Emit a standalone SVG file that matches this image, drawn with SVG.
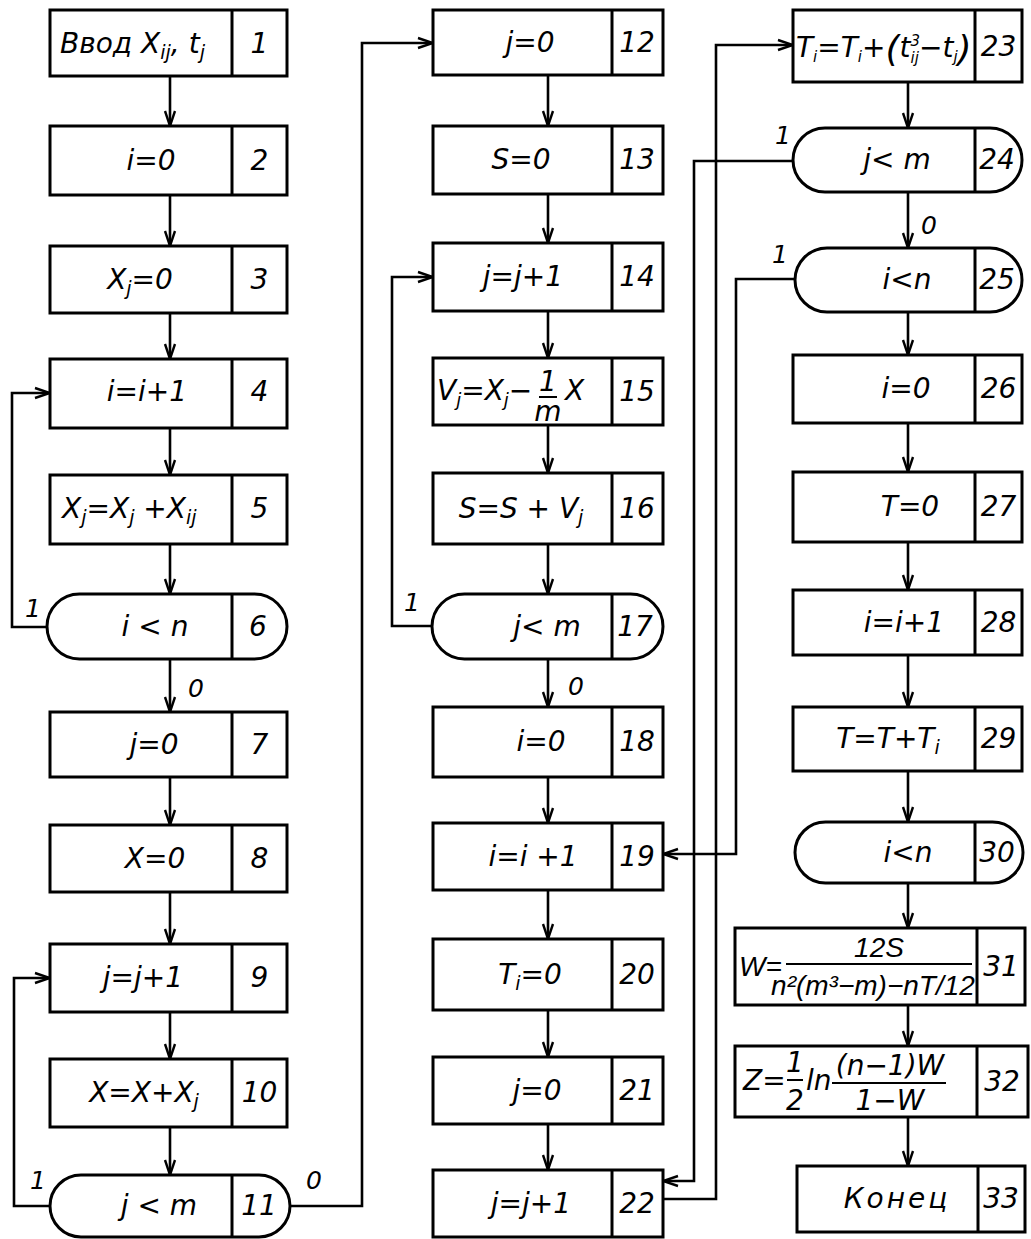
<svg xmlns="http://www.w3.org/2000/svg" width="1031" height="1239" viewBox="0 0 1031 1239">
<style>
.b{fill:#fff;stroke:#000;stroke-width:3}
.d{stroke:#000;stroke-width:3}
.c{fill:none;stroke:#000;stroke-width:2.6}
.fl{stroke:#000;stroke-width:2}
text{font-family:"DejaVu Sans",sans-serif;font-style:italic;font-size:28px;fill:#000}
.m{text-anchor:middle}
.lb{font-size:25px}
.ls{font-family:"Liberation Sans",Arial,sans-serif}
</style>
<defs>
<marker id="a" viewBox="-16 -8 18 16" refX="0" refY="0" markerWidth="18" markerHeight="16" markerUnits="userSpaceOnUse" orient="auto">
<path d="M-15,-5 L0,0 L-15,5" fill="none" stroke="#000" stroke-width="2.4"/>
</marker>
</defs>
<rect width="1031" height="1239" fill="#fff"/>

<g id="connectors">
<path class="c" marker-end="url(#a)" d="M170,76 V126"/>
<path class="c" marker-end="url(#a)" d="M170,195 V246"/>
<path class="c" marker-end="url(#a)" d="M170,313 V359"/>
<path class="c" marker-end="url(#a)" d="M170,428 V475"/>
<path class="c" marker-end="url(#a)" d="M170,544 V594"/>
<path class="c" marker-end="url(#a)" d="M170,659 V712"/>
<path class="c" marker-end="url(#a)" d="M170,777 V825"/>
<path class="c" marker-end="url(#a)" d="M170,892 V944"/>
<path class="c" marker-end="url(#a)" d="M170,1012 V1059"/>
<path class="c" marker-end="url(#a)" d="M170,1127 V1175"/>
<path class="c" marker-end="url(#a)" d="M548,75 V126"/>
<path class="c" marker-end="url(#a)" d="M548,194 V243"/>
<path class="c" marker-end="url(#a)" d="M548,311 V358"/>
<path class="c" marker-end="url(#a)" d="M548,425 V473"/>
<path class="c" marker-end="url(#a)" d="M548,544 V594"/>
<path class="c" marker-end="url(#a)" d="M548,659 V707"/>
<path class="c" marker-end="url(#a)" d="M548,777 V823"/>
<path class="c" marker-end="url(#a)" d="M548,890 V939"/>
<path class="c" marker-end="url(#a)" d="M548,1010 V1057"/>
<path class="c" marker-end="url(#a)" d="M548,1124 V1170"/>
<path class="c" marker-end="url(#a)" d="M908,82 V128"/>
<path class="c" marker-end="url(#a)" d="M908,192 V248"/>
<path class="c" marker-end="url(#a)" d="M908,312 V355"/>
<path class="c" marker-end="url(#a)" d="M908,423 V472"/>
<path class="c" marker-end="url(#a)" d="M908,542 V590"/>
<path class="c" marker-end="url(#a)" d="M908,655 V707"/>
<path class="c" marker-end="url(#a)" d="M908,771 V822"/>
<path class="c" marker-end="url(#a)" d="M908,883 V928"/>
<path class="c" marker-end="url(#a)" d="M908,1005 V1046"/>
<path class="c" marker-end="url(#a)" d="M908,1117 V1166"/>
<path class="c" marker-end="url(#a)" d="M47,627 H12 V393 H50"/>
<path class="c" marker-end="url(#a)" d="M50,1206 H14 V978 H50"/>
<path class="c" marker-end="url(#a)" d="M290,1206 H362 V43 H433"/>
<path class="c" marker-end="url(#a)" d="M432,626 H392 V277 H433"/>
<path class="c" marker-end="url(#a)" d="M663,1199 H716 V45 H793"/>
<path class="c" marker-end="url(#a)" d="M793,161 H694 V1181 H663"/>
<path class="c" marker-end="url(#a)" d="M795,279 H736 V854 H663"/>
<text class="lb" x="25" y="617">1</text>
<text class="lb" x="188" y="697">0</text>
<text class="lb" x="30" y="1189">1</text>
<text class="lb" x="306" y="1189">0</text>
<text class="lb" x="404" y="611">1</text>
<text class="lb" x="568" y="695">0</text>
<text class="lb" x="775" y="144">1</text>
<text class="lb" x="772" y="263">1</text>
<text class="lb" x="921" y="234">0</text>
</g>

<g id="n1"><rect class="b" x="50" y="10" width="237" height="66"/><line class="d" x1="232" y1="10" x2="232" y2="76"/>
<text x="60" y="53">Ввод X<tspan dy="6" font-size="19">ij</tspan><tspan dy="-6">, t</tspan><tspan dy="6" font-size="19">j</tspan></text><text class="m" x="259.5" y="53">1</text></g>
<g id="n2"><rect class="b" x="50" y="126" width="237" height="69"/><line class="d" x1="232" y1="126" x2="232" y2="195"/>
<text class="m" x="151" y="170">i=0</text><text class="m" x="259.5" y="170">2</text></g>
<g id="n3"><rect class="b" x="50" y="246" width="237" height="67"/><line class="d" x1="232" y1="246" x2="232" y2="313"/>
<text class="m" x="140" y="289">X<tspan dy="6" font-size="19">j</tspan><tspan dy="-6">=0</tspan></text><text class="m" x="259.5" y="289">3</text></g>
<g id="n4"><rect class="b" x="50" y="359" width="237" height="69"/><line class="d" x1="232" y1="359" x2="232" y2="428"/>
<text class="m" x="147" y="401">i=i+1</text><text class="m" x="259.5" y="401">4</text></g>
<g id="n5"><rect class="b" x="50" y="475" width="237" height="69"/><line class="d" x1="232" y1="475" x2="232" y2="544"/>
<text x="62" y="518">X<tspan dy="6" font-size="19">j</tspan><tspan dy="-6">=X</tspan><tspan dy="6" font-size="19">j</tspan><tspan dy="-6"> +X</tspan><tspan dy="6" font-size="19">ij</tspan></text><text class="m" x="259.5" y="518">5</text></g>
<g id="n6"><rect class="b" x="47" y="594" width="240" height="65" rx="32.5"/><line class="d" x1="232" y1="594" x2="232" y2="659"/>
<text class="m" x="155" y="636">i &lt; n</text><text class="m" x="258" y="636">6</text></g>
<g id="n7"><rect class="b" x="50" y="712" width="237" height="65"/><line class="d" x1="232" y1="712" x2="232" y2="777"/>
<text class="m" x="154" y="754">j=0</text><text class="m" x="259.5" y="754">7</text></g>
<g id="n8"><rect class="b" x="50" y="825" width="237" height="67"/><line class="d" x1="232" y1="825" x2="232" y2="892"/>
<text class="m" x="155" y="868">X=0</text><text class="m" x="259.5" y="868">8</text></g>
<g id="n9"><rect class="b" x="50" y="944" width="237" height="68"/><line class="d" x1="232" y1="944" x2="232" y2="1012"/>
<text class="m" x="143" y="987">j=j+1</text><text class="m" x="259.5" y="987">9</text></g>
<g id="n10"><rect class="b" x="50" y="1059" width="237" height="68"/><line class="d" x1="232" y1="1059" x2="232" y2="1127"/>
<text class="m" x="144" y="1102">X=X+X<tspan dy="6" font-size="19">j</tspan></text><text class="m" x="259.5" y="1102">10</text></g>
<g id="n11"><rect class="b" x="50" y="1175" width="240" height="62" rx="31"/><line class="d" x1="232" y1="1175" x2="232" y2="1237"/>
<text class="m" x="159" y="1215">j &lt; m</text><text class="m" x="259" y="1215">11</text></g>

<g id="n12"><rect class="b" x="433" y="10" width="230" height="65"/><line class="d" x1="612" y1="10" x2="612" y2="75"/>
<text class="m" x="530" y="52">j=0</text><text class="m" x="637" y="52">12</text></g>
<g id="n13"><rect class="b" x="433" y="126" width="230" height="68"/><line class="d" x1="612" y1="126" x2="612" y2="194"/>
<text class="m" x="521" y="169">S=0</text><text class="m" x="637" y="169">13</text></g>
<g id="n14"><rect class="b" x="433" y="243" width="230" height="68"/><line class="d" x1="612" y1="243" x2="612" y2="311"/>
<text class="m" x="523" y="286">j=j+1</text><text class="m" x="637" y="286">14</text></g>
<g id="n15"><rect class="b" x="433" y="358" width="230" height="67"/><line class="d" x1="612" y1="358" x2="612" y2="425"/>
<text x="437" y="400" font-size="26">V<tspan dy="6" font-size="18">j</tspan><tspan dy="-6">=X</tspan><tspan dy="6" font-size="18">j</tspan><tspan dy="-6">−</tspan></text>
<text class="m" x="548" y="391" font-size="15">1</text><line class="fl" x1="539" y1="397" x2="557" y2="397"/><text class="m" x="548" y="421" font-size="15">m</text>
<text x="565" y="400" font-size="26">X</text><text class="m" x="637" y="401">15</text></g>
<g id="n16"><rect class="b" x="433" y="473" width="230" height="71"/><line class="d" x1="612" y1="473" x2="612" y2="544"/>
<text class="m" x="521" y="518">S=S + V<tspan dy="6" font-size="19">j</tspan></text><text class="m" x="637" y="518">16</text></g>
<g id="n17"><rect class="b" x="432" y="594" width="231" height="65" rx="32.5"/><line class="d" x1="612" y1="594" x2="612" y2="659"/>
<text class="m" x="547" y="636">j&lt; m</text><text class="m" x="635" y="636">17</text></g>
<g id="n18"><rect class="b" x="433" y="707" width="230" height="70"/><line class="d" x1="612" y1="707" x2="612" y2="777"/>
<text class="m" x="541" y="751">i=0</text><text class="m" x="637" y="751">18</text></g>
<g id="n19"><rect class="b" x="433" y="823" width="230" height="67"/><line class="d" x1="612" y1="823" x2="612" y2="890"/>
<text class="m" x="533" y="866">i=i +1</text><text class="m" x="637" y="866">19</text></g>
<g id="n20"><rect class="b" x="433" y="939" width="230" height="71"/><line class="d" x1="612" y1="939" x2="612" y2="1010"/>
<text class="m" x="530" y="984">T<tspan dy="6" font-size="19">i</tspan><tspan dy="-6">=0</tspan></text><text class="m" x="637" y="984">20</text></g>
<g id="n21"><rect class="b" x="433" y="1057" width="230" height="67"/><line class="d" x1="612" y1="1057" x2="612" y2="1124"/>
<text class="m" x="537" y="1100">j=0</text><text class="m" x="637" y="1100">21</text></g>
<g id="n22"><rect class="b" x="433" y="1170" width="230" height="67"/><line class="d" x1="612" y1="1170" x2="612" y2="1237"/>
<text class="m" x="531" y="1213">j=j+1</text><text class="m" x="637" y="1213">22</text></g>

<g id="n23"><rect class="b" x="793" y="10" width="229" height="72"/><line class="d" x1="975" y1="10" x2="975" y2="82"/>
<text x="796" y="57" font-size="22">T<tspan dy="5" font-size="15">i</tspan><tspan dy="-5">=T</tspan><tspan dy="5" font-size="15">i</tspan><tspan dy="-5">+</tspan><tspan dy="4" font-size="36">(</tspan><tspan dy="-4">t</tspan><tspan dy="-11" font-size="15">3</tspan><tspan dx="-9.5" dy="17" font-size="15">ij</tspan><tspan dy="-6">−t</tspan><tspan dy="5" font-size="15">j</tspan><tspan dy="-1" font-size="36">)</tspan></text>
<text class="m" x="998.5" y="56">23</text></g>
<g id="n24"><rect class="b" x="793" y="128" width="229" height="64" rx="32"/><line class="d" x1="975" y1="128" x2="975" y2="192"/>
<text class="m" x="897" y="169">j&lt; m</text><text class="m" x="997" y="169">24</text></g>
<g id="n25"><rect class="b" x="795" y="248" width="227" height="64" rx="32"/><line class="d" x1="975" y1="248" x2="975" y2="312"/>
<text class="m" x="907" y="289">i&lt;n</text><text class="m" x="997" y="289">25</text></g>
<g id="n26"><rect class="b" x="793" y="355" width="229" height="68"/><line class="d" x1="975" y1="355" x2="975" y2="423"/>
<text class="m" x="906" y="398">i=0</text><text class="m" x="998.5" y="398">26</text></g>
<g id="n27"><rect class="b" x="793" y="472" width="229" height="70"/><line class="d" x1="975" y1="472" x2="975" y2="542"/>
<text class="m" x="910" y="516">T=0</text><text class="m" x="998.5" y="516">27</text></g>
<g id="n28"><rect class="b" x="793" y="590" width="229" height="65"/><line class="d" x1="975" y1="590" x2="975" y2="655"/>
<text class="m" x="904" y="632">i=i+1</text><text class="m" x="998.5" y="632">28</text></g>
<g id="n29"><rect class="b" x="793" y="707" width="229" height="64"/><line class="d" x1="975" y1="707" x2="975" y2="771"/>
<text class="m" x="888" y="748">T=T+T<tspan dy="6" font-size="19">i</tspan></text><text class="m" x="998.5" y="748">29</text></g>
<g id="n30"><rect class="b" x="795" y="822" width="228" height="61" rx="30.5"/><line class="d" x1="975" y1="822" x2="975" y2="883"/>
<text class="m" x="908" y="862">i&lt;n</text><text class="m" x="997" y="862">30</text></g>
<g id="n31"><rect class="b" x="735" y="928" width="290" height="77"/><line class="d" x1="977" y1="928" x2="977" y2="1005"/>
<text class="ls" x="739" y="976" font-size="22">W=</text>
<text class="m ls" x="879" y="957" font-size="23">12S</text><line class="fl" x1="786" y1="964" x2="972" y2="964"/>
<text class="m ls" x="873" y="995" font-size="19">n²(m³−m)−nT/12</text>
<text class="m" x="1001" y="976">31</text></g>
<g id="n32"><rect class="b" x="735" y="1046" width="293" height="71"/><line class="d" x1="977" y1="1046" x2="977" y2="1117"/>
<text x="743" y="1090" font-size="24">Z=</text>
<text class="m" x="795" y="1072" font-size="18">1</text><line class="fl" x1="787" y1="1080" x2="803" y2="1080"/><text class="m" x="795" y="1110" font-size="20">2</text>
<text x="806" y="1090" font-size="22">ln</text>
<text class="m" x="890" y="1075" font-size="22">(n−1)W</text><line class="fl" x1="832" y1="1083" x2="946" y2="1083"/><text class="m" x="890" y="1110" font-size="22">1−W</text>
<text class="m" x="1002" y="1091">32</text></g>
<g id="n33"><rect class="b" x="797" y="1166" width="228" height="66"/><line class="d" x1="978" y1="1166" x2="978" y2="1232"/>
<text class="m" x="897" y="1208" letter-spacing="3">Конец</text><text class="m" x="1001" y="1208">33</text></g>
</svg>
